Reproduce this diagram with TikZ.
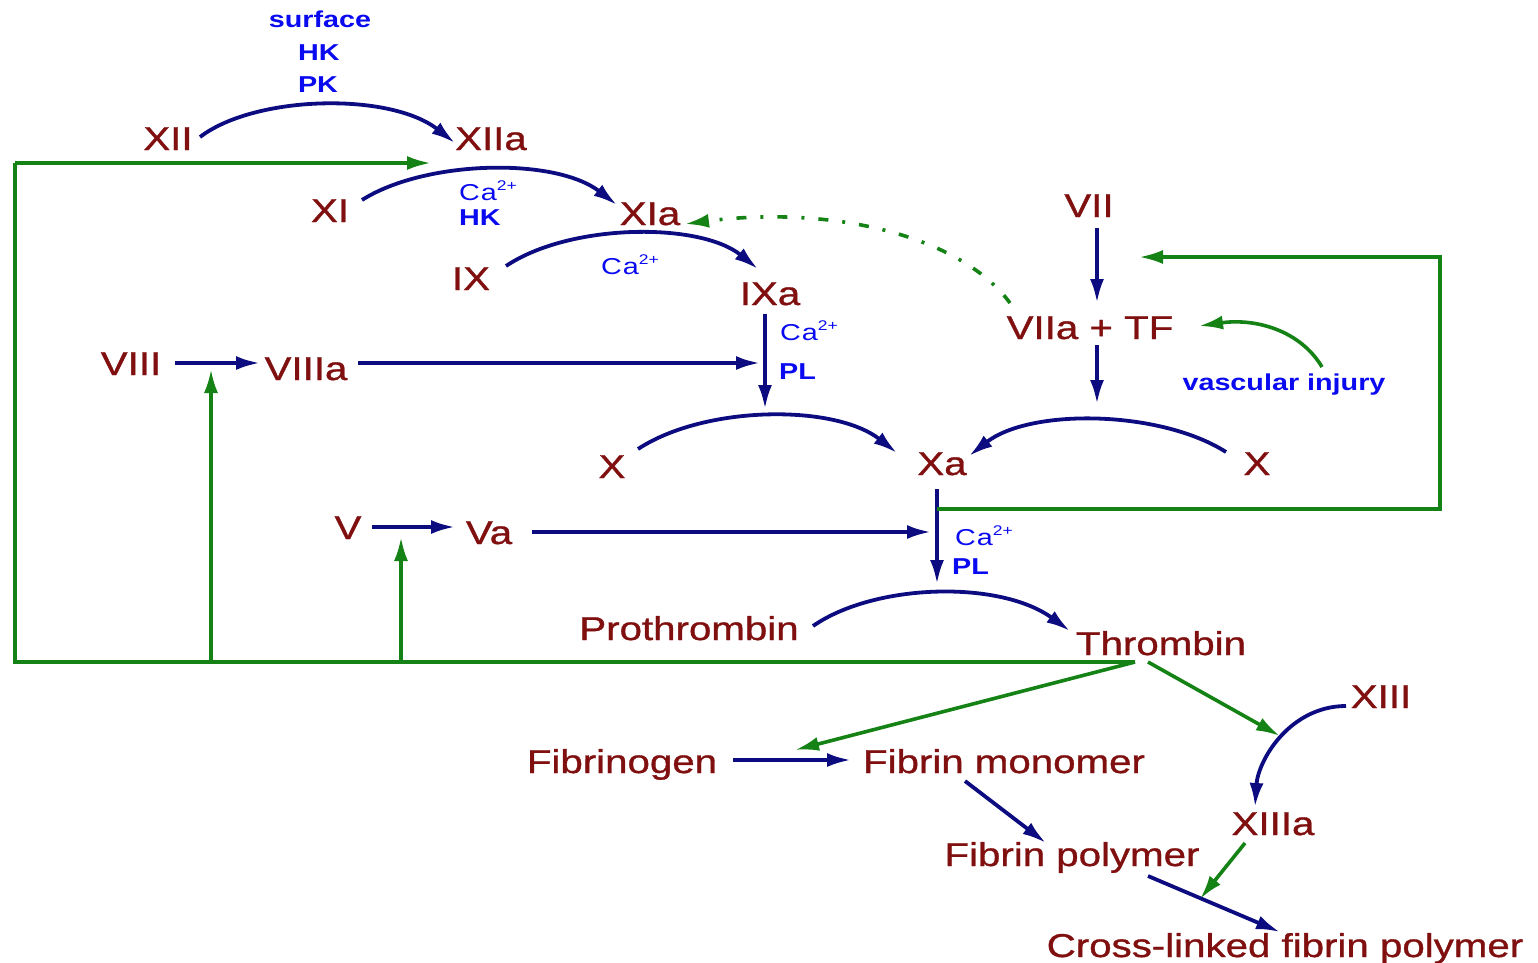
\documentclass[tikz,border=0pt]{standalone}
\usepackage{fontspec}
\newfontfamily\redf{Liberation Sans}[FakeStretch=1.22,FakeBold=1]
\newfontfamily\bluef{Liberation Sans}[FakeStretch=1.25]
\usetikzlibrary{arrows.meta}
\definecolor{fred}{RGB}{128,16,16}
\definecolor{fnavy}{RGB}{12,12,128}
\definecolor{fgreen}{RGB}{20,130,20}
\definecolor{fblue}{RGB}{10,10,240}
\newcommand\caion{{\mdseries C\kern1pt a\raisebox{10pt}{\fontsize{14}{14}\selectfont 2+}}}
\begin{document}
\begin{tikzpicture}[x=1pt,y=-1pt,
 lab/.style={inner sep=0pt, anchor=base, text=fred, font=\redf\fontsize{33}{36}\selectfont},
 cof/.style={inner sep=0pt, anchor=base, text=fblue, font=\bluef\bfseries\fontsize{23}{26}\selectfont},
 cofw/.style={cof, anchor=base west},
 tip/.style={-{Latex[length=24pt,width=14pt]}},
 nav/.style={draw=fnavy, line width=3.8pt, tip},
 grn/.style={draw=fgreen, line width=3.6pt, tip},
 grnl/.style={draw=fgreen, line width=3.6pt}]
\useasboundingbox (0,0) rectangle (1538,962);
% red labels
\node[lab] (XII) at (168,150) {XII};
\node[lab] (XIIa) at (491,150) {XIIa};
\node[lab] (XI) at (330,222) {XI};
\node[lab] (XIa) at (650,225) {XIa};
\node[lab] (IX) at (471,290) {IX};
\node[lab] (IXa) at (770,305) {IXa};
\node[lab] (VII) at (1089,217) {VII};
\node[lab] (VIIa) at (1090,339) {VIIa + TF};
\node[lab] (VIII) at (131,375) {VIII};
\node[lab] (VIIIa) at (306,380) {VIIIa};
\node[lab] (Xl) at (612,478) {X};
\node[lab] (Xa) at (942,475) {Xa};
\node[lab] (Xr) at (1257,475) {X};
\node[lab] (V) at (348,539) {V};
\node[lab] (Va) at (489,544) {Va};
\node[lab] (Pro) at (689,640) {Prothrombin};
\node[lab] (Thr) at (1161,655) {Thrombin};
\node[lab] (XIII) at (1381,708) {XIII};
\node[lab] (Fgen) at (622,773) {Fibrinogen};
\node[lab] (Fmon) at (1004,773) {Fibrin monomer};
\node[lab] (XIIIa) at (1273,835) {XIIIa};
\node[lab] (Fpol) at (1072,866) {Fibrin polymer};
\node[lab] (Xlink) at (1285,957) {Cross-linked fibrin polymer};
% blue labels
\node[cof] (surf) at (320,27) {surface};
\node[cof] (hk1) at (319,60) {HK};
\node[cof] (pk1) at (318,92) {PK};
\node[cofw] (ca1) at (459,200) {\caion};
\node[cofw] (hk2) at (459,225) {HK};
\node[cofw] (ca2) at (601,274) {\caion};
\node[cofw] (ca3) at (780,340) {\caion};
\node[cofw] (pl1) at (779,379) {PL};
\node[cof] (vasc) at (1284,390) {vascular injury};
\node[cofw] (ca4) at (955,545) {\caion};
\node[cofw] (pl2) at (952,574) {PL};
% connector end points
\coordinate (a1) at (200,137);  \coordinate (a1e) at (455,143);
\coordinate (a2) at (362,200);  \coordinate (a2e) at (617,205);
\coordinate (a3) at (506,266);  \coordinate (a3e) at (758,269);
\coordinate (ixs) at (765,314); \coordinate (ixd) at (765,409);
\coordinate (v8s) at (358,363); \coordinate (v8e) at (760,363);
\coordinate (v8a) at (175,363); \coordinate (v8b) at (260,363);
\coordinate (xls) at (638,449); \coordinate (xle) at (897,453);
\coordinate (xrs) at (1226,452);\coordinate (xre) at (969,456);
\coordinate (v7s) at (1097,228);\coordinate (v7e) at (1097,303);
\coordinate (tfs) at (1097,345);\coordinate (tfe) at (1097,404);
\coordinate (xas) at (937,489); \coordinate (xae) at (937,584);
\coordinate (v5a) at (372,527); \coordinate (v5b) at (455,527);
\coordinate (v5s) at (532,532); \coordinate (v5e) at (931,532);
\coordinate (prs) at (813,626); \coordinate (pre) at (1070,631);
\coordinate (fgs) at (733,760); \coordinate (fge) at (851,760);
\coordinate (fms) at (965,781); \coordinate (fme) at (1046,843);
\coordinate (x13s) at (1346,706);\coordinate (x13e) at (1255,807);
\coordinate (fps) at (1148,876);\coordinate (fpe) at (1280,932);
% navy connectors
\draw[nav] (a1) .. controls (255,95) and (390,92) .. (a1e);
\draw[nav] (a2) .. controls (425,160) and (555,157) .. (a2e);
\draw[nav] (a3) .. controls (570,223) and (700,222) .. (a3e);
\draw[nav] (ixs) -- (ixd);
\draw[nav] (v8s) -- (v8e);
\draw[nav] (v8a) -- (v8b);
\draw[nav] (xls) .. controls (705,405) and (835,404) .. (xle);
\draw[nav] (xrs) .. controls (1160,410) and (1030,408) .. (xre);
\draw[nav] (v7s) -- (v7e);
\draw[nav] (tfs) -- (tfe);
\draw[nav] (xas) -- (xae);
\draw[nav] (v5a) -- (v5b);
\draw[nav] (v5s) -- (v5e);
\draw[nav] (prs) .. controls (875,583) and (1000,580) .. (pre);
\draw[nav] (fgs) -- (fge);
\draw[nav] (fms) -- (fme);
\draw[nav] (x13s) .. controls (1290,706) and (1258,760) .. (x13e);
\draw[nav] (fps) -- (fpe);
% green connectors
\coordinate (thr) at (1135,662);
\coordinate (bl) at (15,662);
\coordinate (tl) at (15,163);
\coordinate (tle) at (431,163);
\coordinate (b8) at (211,662); \coordinate (b8e) at (211,369);
\coordinate (b5) at (401,662); \coordinate (b5e) at (401,537);
\coordinate (thf) at (795,750);
\coordinate (th13) at (1148,662); \coordinate (th13e) at (1280,736);
\coordinate (x13as) at (1245,843); \coordinate (x13ae) at (1200,899);
\coordinate (xaj) at (937,509);
\coordinate (rb) at (1440,509);
\coordinate (rt) at (1440,257);
\coordinate (rte) at (1139,257);
\coordinate (vis) at (1322,367); \coordinate (vie) at (1199,326);
\coordinate (ds) at (1010,303); \coordinate (de) at (685,224);
\draw[grnl] (thr) -- (bl) -- (tl);
\draw[grn] (tl) -- (tle);
\draw[grn] (b8) -- (b8e);
\draw[grn] (b5) -- (b5e);
\draw[grn] (thr) -- (thf);
\draw[grn] (th13) -- (th13e);
\draw[grn] (x13as) -- (x13ae);
\draw[grn] (xaj) -- (rb) -- (rt) -- (rte);
\draw[grn] (vis) .. controls (1300,330) and (1255,318) .. (vie);
\draw[grn, dash pattern=on 10pt off 14pt on 3pt off 14pt] (ds) .. controls (960,235) and (830,205) .. (de);
\end{tikzpicture}
\end{document}
